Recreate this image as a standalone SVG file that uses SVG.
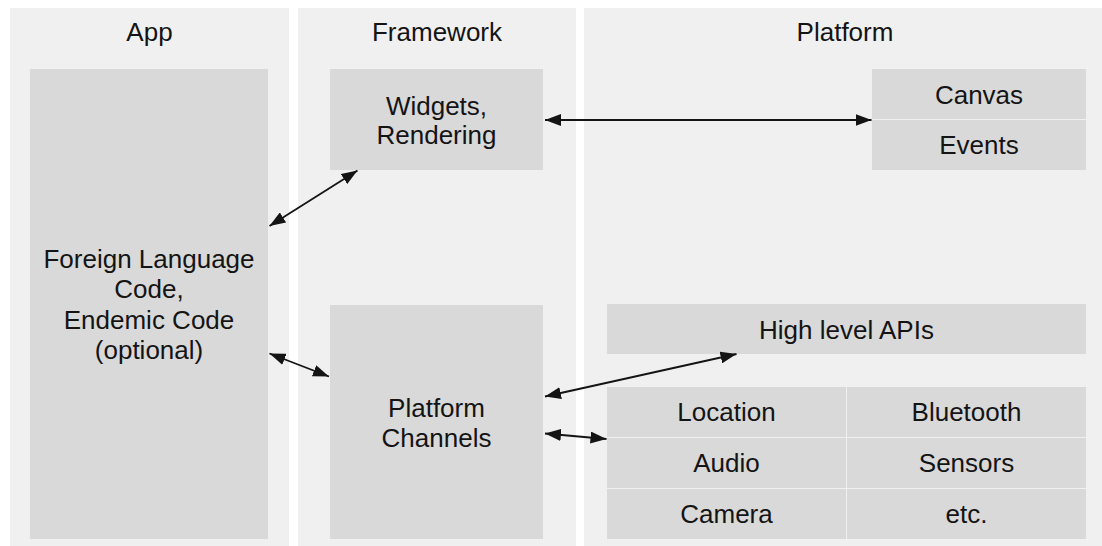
<svg xmlns="http://www.w3.org/2000/svg" width="1102" height="546" viewBox="0 0 1102 546">
  <style>
    .lane { fill: #f0f0f0; }
    .box { fill: #d9d9d9; }
    .label { font-family: "Liberation Sans", Arial, Helvetica, sans-serif; font-size: 26px; fill: #141414; text-anchor: middle; }
    .link { stroke: #141414; stroke-width: 1.8; fill: none; marker-start: url(#head); marker-end: url(#head); }
  </style>
  <defs>
    <marker id="head" viewBox="0 0 16 12" refX="16" refY="6" markerWidth="16" markerHeight="12" markerUnits="userSpaceOnUse" orient="auto-start-reverse">
      <path d="M0,0 L16,6 L0,12 z" fill="#141414"/>
    </marker>
  </defs>

  <rect width="1102" height="546" fill="#ffffff"/>

  <!-- Lanes -->
  <g id="lane-app">
    <rect class="lane" x="10" y="8" width="279" height="538"/>
    <text class="label" x="149.5" y="41">App</text>
  </g>
  <g id="lane-framework">
    <rect class="lane" x="298" y="8" width="278" height="538"/>
    <text class="label" x="437" y="41">Framework</text>
  </g>
  <g id="lane-platform">
    <rect class="lane" x="584" y="8" width="518" height="538"/>
    <text class="label" x="845" y="41">Platform</text>
  </g>

  <!-- App -->
  <g id="foreign-code">
    <rect class="box" x="30" y="69" width="238" height="470"/>
    <text class="label" x="149" y="267.5">Foreign Language</text>
    <text class="label" x="149" y="298">Code,</text>
    <text class="label" x="149" y="328.5">Endemic Code</text>
    <text class="label" x="149" y="359">(optional)</text>
  </g>

  <!-- Framework -->
  <g id="widgets">
    <rect class="box" x="330" y="69" width="213" height="101"/>
    <text class="label" x="436.5" y="114.5">Widgets,</text>
    <text class="label" x="436.5" y="144">Rendering</text>
  </g>
  <g id="platform-channels">
    <rect class="box" x="330" y="305" width="213" height="234"/>
    <text class="label" x="436.5" y="416.5">Platform</text>
    <text class="label" x="436.5" y="446.5">Channels</text>
  </g>

  <!-- Platform -->
  <g id="canvas-events">
    <rect class="box" x="872" y="69" width="214" height="50"/>
    <text class="label" x="979" y="103.5">Canvas</text>
    <rect class="box" x="872" y="120" width="214" height="50"/>
    <text class="label" x="979" y="154">Events</text>
  </g>
  <g id="high-level-apis">
    <rect class="box" x="607" y="304" width="479" height="50"/>
    <text class="label" x="846.5" y="338.5">High level APIs</text>
  </g>
  <g id="services">
    <rect class="box" x="607" y="387" width="239" height="50"/>
    <text class="label" x="726.5" y="421">Location</text>
    <rect class="box" x="847" y="387" width="239" height="50"/>
    <text class="label" x="966.5" y="421">Bluetooth</text>
    <rect class="box" x="607" y="438" width="239" height="50"/>
    <text class="label" x="726.5" y="472">Audio</text>
    <rect class="box" x="847" y="438" width="239" height="50"/>
    <text class="label" x="966.5" y="472">Sensors</text>
    <rect class="box" x="607" y="489" width="239" height="50"/>
    <text class="label" x="726.5" y="523">Camera</text>
    <rect class="box" x="847" y="489" width="239" height="50"/>
    <text class="label" x="966.5" y="523">etc.</text>
  </g>

  <!-- Connectors -->
  <g id="connectors">
    <line class="link" x1="545" y1="120" x2="871.5" y2="120"/>
    <line class="link" x1="269.5" y1="226" x2="357.5" y2="170.5"/>
    <line class="link" x1="269.5" y1="353.5" x2="329" y2="376.5"/>
    <line class="link" x1="545" y1="396.5" x2="736.5" y2="354"/>
    <line class="link" x1="545" y1="433.5" x2="606.5" y2="439"/>
  </g>
</svg>
